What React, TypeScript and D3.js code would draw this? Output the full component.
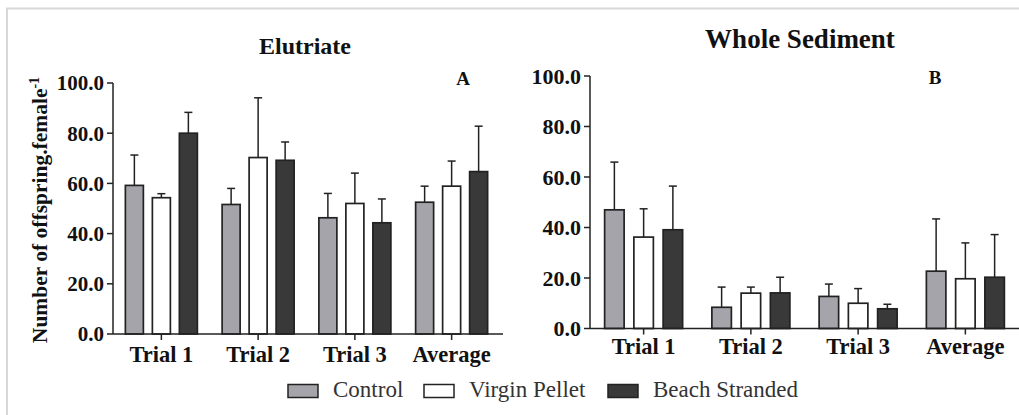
import React from 'react';
import * as d3 from 'd3';

const categories = ['Trial 1', 'Trial 2', 'Trial 3', 'Average'];
const seriesNames = ['Control', 'Virgin Pellet', 'Beach Stranded'];
const yTicks = [0, 20, 40, 60, 80, 100];

// Elutriate (panel A)
const elutriateControl = [59.2, 51.6, 46.3, 52.5];
const elutriateControlSd = [12.1, 6.4, 9.7, 6.4];
const elutriateVirgin = [54.3, 70.3, 52.0, 58.9];
const elutriateVirginSd = [1.6, 23.8, 12.1, 10.0];
const elutriateBeach = [80.0, 69.2, 44.3, 64.7];
const elutriateBeachSd = [8.3, 7.3, 9.5, 18.1];

// Whole sediment (panel B)
const sedimentControl = [47.0, 8.4, 12.7, 22.7];
const sedimentControlSd = [18.9, 8.0, 4.9, 20.7];
const sedimentVirgin = [36.2, 14.0, 10.0, 19.7];
const sedimentVirginSd = [11.2, 2.4, 5.8, 14.2];
const sedimentBeach = [39.1, 14.1, 7.8, 20.3];
const sedimentBeachSd = [17.3, 6.2, 1.8, 16.9];

const fills = ['#a4a4aa', '#ffffff', '#393939'];
const ink = '#222';
const serif = 'Liberation Serif, Times New Roman, serif';

type Series = { mean: number[]; sd: number[] };

type PanelProps = {
  title: string;
  letter: string;
  series: Series[];
  x0: number;
  x1: number;
  axisEnd: number;
  yTop: number;
  yBottom: number;
  groupWidth: number;
  titleX: number;
  titleY: number;
  titleSize: number;
  letterX: number;
  letterY: number;
  tickSize: number;
  catY: number;
};

function Panel(p: PanelProps) {
  const x = d3.scaleBand<string>().domain(categories).range([p.x0, p.x1]);
  const inner = d3
    .scaleBand<string>()
    .domain(seriesNames)
    .range([-p.groupWidth / 2, p.groupWidth / 2])
    .paddingInner(1 / 3);
  const y = d3.scaleLinear().domain([0, 100]).range([p.yBottom, p.yTop]);
  const fmt = d3.format('.1f');
  const bw = inner.bandwidth();

  return (
    <g>
      <text x={p.titleX} y={p.titleY} textAnchor="middle" fontWeight="bold" fontSize={p.titleSize} fill="#111">
        {p.title}
      </text>
      <text x={p.letterX} y={p.letterY} textAnchor="middle" fontWeight="bold" fontSize={19} fill="#111">
        {p.letter}
      </text>

      {p.series.map((s, si) =>
        categories.map((c, ci) => {
          const cx = x(c)! + x.bandwidth() / 2 + inner(seriesNames[si])!;
          const mid = cx + bw / 2;
          const top = y(s.mean[ci]);
          const errTop = y(s.mean[ci] + s.sd[ci]);
          return (
            <g key={si + '-' + ci}>
              <line x1={mid} x2={mid} y1={top} y2={errTop} stroke={ink} strokeWidth={1.5} />
              <line x1={mid - 4} x2={mid + 4} y1={errTop} y2={errTop} stroke={ink} strokeWidth={1.5} />
              <rect x={cx} y={top} width={bw} height={y(0) - top} fill={fills[si]} stroke={ink} strokeWidth={1.7} />
            </g>
          );
        })
      )}

      {/* y axis */}
      <line x1={p.x0} x2={p.x0} y1={p.yTop} y2={p.yBottom} stroke={ink} strokeWidth={1.5} />
      {yTicks.map((t) => (
        <g key={t}>
          <line x1={p.x0 - 6} x2={p.x0} y1={y(t)} y2={y(t)} stroke={ink} strokeWidth={1.5} />
          <text x={p.x0 - 9} y={y(t)} dy="0.35em" textAnchor="end" fontWeight="bold" fontSize={p.tickSize} fill="#111">
            {fmt(t)}
          </text>
        </g>
      ))}

      {/* x axis */}
      <line x1={p.x0} x2={p.axisEnd} y1={p.yBottom} y2={p.yBottom} stroke={ink} strokeWidth={1.5} />
      {categories.map((c) => {
        const cx = x(c)! + x.bandwidth() / 2;
        return (
          <g key={c}>
            <line x1={cx} x2={cx} y1={p.yBottom} y2={p.yBottom + 6} stroke={ink} strokeWidth={1.5} />
            <text x={cx} y={p.catY} textAnchor="middle" fontWeight="bold" fontSize={22.5} fill="#111">
              {c}
            </text>
          </g>
        );
      })}
    </g>
  );
}

export default function App() {
  const elutriate: Series[] = [
    { mean: elutriateControl, sd: elutriateControlSd },
    { mean: elutriateVirgin, sd: elutriateVirginSd },
    { mean: elutriateBeach, sd: elutriateBeachSd },
  ];
  const sediment: Series[] = [
    { mean: sedimentControl, sd: sedimentControlSd },
    { mean: sedimentVirgin, sd: sedimentVirginSd },
    { mean: sedimentBeach, sd: sedimentBeachSd },
  ];

  const legendX = [288, 424, 608];

  return (
    <svg
      width={1019}
      height={415}
      style={{ position: 'absolute', left: 0, top: 0, background: '#fff', fontFamily: serif }}
    >
      {/* frame */}
      <line x1={6} x2={1019} y1={8.5} y2={8.5} stroke="#d8d8d8" strokeWidth={2} />
      <line x1={7} x2={7} y1={8} y2={415} stroke="#d8d8d8" strokeWidth={2} />

      <Panel
        title="Elutriate"
        letter="A"
        series={elutriate}
        x0={113}
        x1={500}
        axisEnd={503}
        yTop={83}
        yBottom={334}
        groupWidth={72}
        titleX={305}
        titleY={54}
        titleSize={24}
        letterX={463}
        letterY={85}
        tickSize={21}
        catY={362}
      />
      <Panel
        title="Whole Sediment"
        letter="B"
        series={sediment}
        x0={590}
        x1={1019}
        axisEnd={1019}
        yTop={76}
        yBottom={328.5}
        groupWidth={78}
        titleX={800}
        titleY={48}
        titleSize={27}
        letterX={935}
        letterY={84}
        tickSize={22}
        catY={354}
      />

      {/* y axis title */}
      <text transform="translate(47,210) rotate(-90)" textAnchor="middle" fontWeight="bold" fontSize={21.5} fill="#111">
        Number of offspring.female
        <tspan fontSize={14} dy={-8}>-1</tspan>
      </text>

      {/* legend */}
      {seriesNames.map((s, i) => (
        <g key={s}>
          <rect x={legendX[i]} y={384.5} width={30} height={13} fill={fills[i]} stroke={ink} strokeWidth={1.5} />
          <text x={legendX[i] + 45} y={397} fontSize={23} fill="#333">
            {s}
          </text>
        </g>
      ))}
    </svg>
  );
}
